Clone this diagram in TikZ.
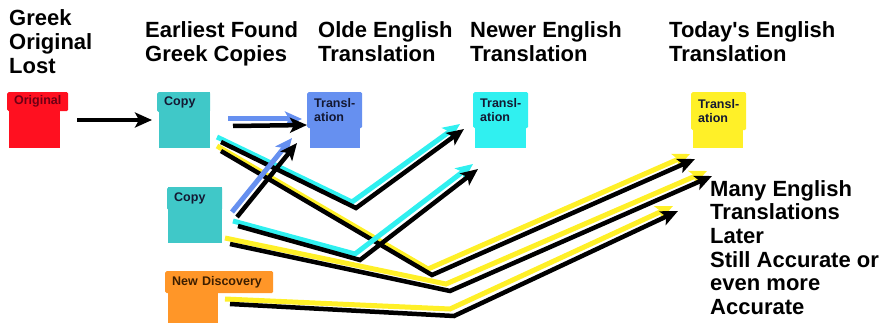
\documentclass[tikz,border=0pt]{standalone}
\usepackage{fontspec}
\setmainfont{Liberation Sans}
\usetikzlibrary{arrows.meta}
\definecolor{cRed}{RGB}{255,16,32}
\definecolor{cTeal}{RGB}{64,200,200}
\definecolor{cBlue}{RGB}{102,144,240}
\definecolor{cCyan}{RGB}{48,240,240}
\definecolor{cYellow}{RGB}{255,240,40}
\definecolor{cOrange}{RGB}{255,150,40}
\definecolor{tRed}{RGB}{110,0,20}
\definecolor{tDark}{RGB}{20,24,50}
\definecolor{tBrown}{RGB}{60,30,0}
\begin{document}
\begin{tikzpicture}[x=1pt,y=-1pt,
  head/.style={font=\bfseries\fontsize{22}{24}\selectfont, anchor=north west, inner sep=0pt, align=left},
  boxbody/.style={anchor=north west, inner sep=0pt, draw=none},
  tab/.style={anchor=north west, inner xsep=7pt, inner ysep=0pt, align=left, rounded corners=1.5pt,
    font=\bfseries\fontsize{12.5}{13.5}\selectfont},
  colarr/.style={line width=5pt, line join=miter, -{Stealth[length=17pt,width=15pt,inset=4pt]}},
  blkarr/.style={line width=4.5pt, line join=miter, black, -{Stealth[length=17pt,width=15pt,inset=4pt]}}
]
\useasboundingbox (0,0) rectangle (883,323);

% headers
\node[head] (hGreek) at (9,9) {Greek\\Original\\Lost};
\node[head] (hEarly) at (145,21) {Earliest Found\\Greek Copies};
\node[head] (hOlde) at (318,21) {Olde English\\Translation};
\node[head] (hNewer) at (470,21) {Newer English\\Translation};
\node[head] (hToday) at (669,21) {Today\textquotesingle s English\\Translation};

% boxes
\node[boxbody, fill=cRed, minimum width=51pt, minimum height=56pt] (orig) at (9,92) {};
\node[tab, fill=cRed, text=tRed, minimum width=61pt, minimum height=19pt, inner xsep=0pt, text width=61pt, align=center] (origT) at (7,92) {Original};

\node[boxbody, fill=cTeal, minimum width=51pt, minimum height=56pt] (copyA) at (159,92) {};
\node[tab, fill=cTeal, text=tDark, text width=39pt, minimum height=20pt] (copyAT) at (157,92) {Copy};

\node[boxbody, fill=cTeal, minimum width=54pt, minimum height=56pt] (copyB) at (168,187) {};
\node[tab, fill=cTeal, text=tDark, text width=41pt, minimum height=23pt] (copyBT) at (167,187) {Copy};

\node[boxbody, fill=cBlue, minimum width=50pt, minimum height=56pt] (transO) at (310,92) {};
\node[tab, fill=cBlue, text=tDark, text width=41pt, minimum height=36pt] (transOT) at (307,92) {Transl-\\ation};

\node[boxbody, fill=cCyan, minimum width=51pt, minimum height=56pt] (transN) at (475,92) {};
\node[tab, fill=cCyan, text=tDark, text width=41pt, minimum height=36pt] (transNT) at (473,92) {Transl-\\ation};

\node[boxbody, fill=cYellow, minimum width=50pt, minimum height=56pt] (transT) at (693,92) {};
\node[tab, fill=cYellow, text=tDark, text width=41pt, minimum height=38pt] (transTT) at (691,92) {Transl-\\ation};

\node[boxbody, fill=cOrange, minimum width=50pt, minimum height=60pt] (newD) at (168,271) {};
\node[tab, fill=cOrange, text=tBrown, text width=94pt, minimum height=22pt] (newDT) at (165,271) {New Discovery};

% path points
\coordinate (a0) at (77,120);  \coordinate (a1) at (152,120);
\coordinate (b0) at (228,119); \coordinate (b1) at (302,119);
\coordinate (c0) at (232,212); \coordinate (c1) at (292,138);
\coordinate (d0) at (217,137); \coordinate (dv) at (352,202); \coordinate (d1) at (460,124);
\coordinate (e0) at (233,221); \coordinate (ev) at (355,254); \coordinate (e1) at (473,164);
\coordinate (f0) at (217,146); \coordinate (fv) at (428,269); \coordinate (f1) at (690,154);
\coordinate (g0) at (225,238); \coordinate (gv) at (446,284); \coordinate (g1) at (707,171);
\coordinate (h0) at (225,299); \coordinate (hv) at (450,309); \coordinate (h1) at (673,206);

% arrows
\draw[blkarr] (a0) -- (a1);

\draw[colarr, cCyan] (d0) -- (dv) -- (d1);
\draw[blkarr] ([shift={(4,5)}]d0) -- ([shift={(4,6)}]dv) -- ([shift={(4,5)}]d1);
\draw[colarr, cYellow] (f0) -- (fv) -- (f1);
\draw[blkarr] ([shift={(4,5)}]f0) -- ([shift={(4,6)}]fv) -- ([shift={(5,5)}]f1);

\draw[colarr, cBlue] (b0) -- (b1);
\draw[blkarr] ([shift={(5,7)}]b0) -- ([shift={(5,6)}]b1);
\draw[colarr, cBlue] (c0) -- (c1);
\draw[blkarr] ([shift={(5,5)}]c0) -- ([shift={(5,5)}]c1);

\draw[colarr, cCyan] (e0) -- (ev) -- (e1);
\draw[blkarr] ([shift={(5,5)}]e0) -- ([shift={(5,6)}]ev) -- ([shift={(5,5)}]e1);
\draw[colarr, cYellow] (g0) -- (gv) -- (g1);
\draw[blkarr] ([shift={(5,6)}]g0) -- ([shift={(4,7)}]gv) -- ([shift={(5,5)}]g1);
\draw[colarr, cYellow] (h0) -- (hv) -- (h1);
\draw[blkarr] ([shift={(5,5)}]h0) -- ([shift={(4,7)}]hv) -- ([shift={(5,5)}]h1);

% right text
\node[head, font=\bfseries\fontsize{22}{23.7}\selectfont] (note) at (710,180) {Many English\\Translations\\Later\\Still Accurate or\\even more\\Accurate};
\end{tikzpicture}
\end{document}
